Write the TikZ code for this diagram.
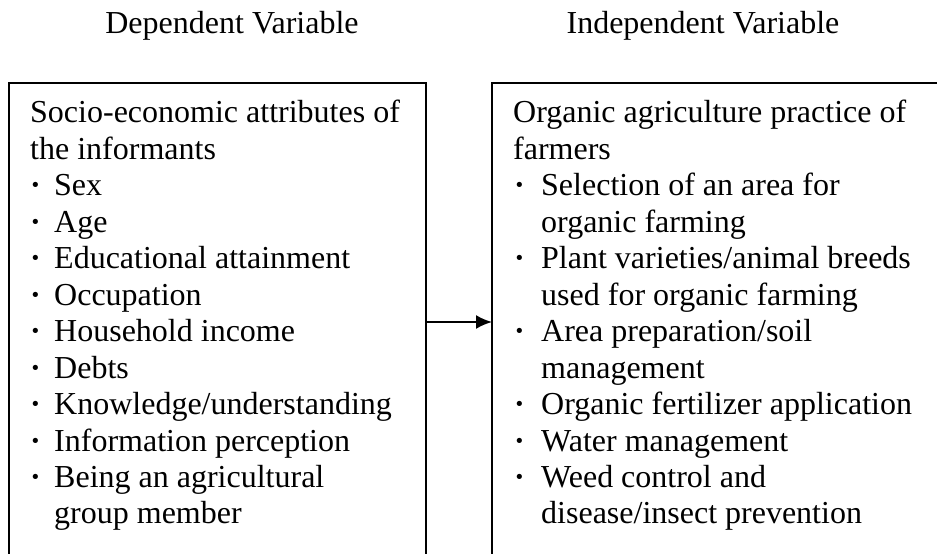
\documentclass[tikz,border=0pt]{standalone}
\usepackage{fontspec}
\setmainfont{Liberation Serif}
\usetikzlibrary{arrows.meta}
\newcommand\myfs{\fontsize{32bp}{36.45bp}\selectfont}
\tikzset{
  box/.style={draw=black, line width=2bp, inner sep=0pt, outer sep=0pt, anchor=north west},
  txt/.style={anchor=base west, inner sep=0pt, font=\myfs},
  ttl/.style={anchor=base, inner sep=0pt, font=\myfs},
  conn/.style={line width=2bp, -{Latex[length=16bp,width=14bp]}}
}
\begin{document}
\begin{tikzpicture}[x=1bp,y=-1bp]
\useasboundingbox (0,0) rectangle (937,554);
\clip (0,0) rectangle (937,554);
\fill[white] (0,0) rectangle (937,554);
% titles
\node[ttl] (t1) at (232,34) {Dependent Variable};
\node[ttl] (t2) at (703,34) {Independent Variable};
% boxes
\node[box, minimum width=417bp, minimum height=478bp] (L) at (9,83) {};
\node[box, minimum width=460bp, minimum height=478bp] (R) at (492,83) {};
% left box text
\node[txt] (l1) at (30,123) {Socio-economic attributes of};
\node[txt] (l2) at (30,159.45) {the informants};
\foreach \y/\t [count=\i] in {195.9/Sex, 232.35/Age, 268.8/Educational attainment, 305.25/Occupation, 341.7/Household income, 378.15/Debts, 414.6/Knowledge{/}understanding, 451.05/Information perception, 487.5/Being an agricultural}{
  \node[txt] (lb\i) at (30,\y) {\textbf{·}};
  \node[txt] (li\i) at (54,\y) {\t};
}
\node[txt] (l12) at (54,523.95) {group member};
% right box text
\node[txt] (r1) at (513,123) {Organic agriculture practice of};
\node[txt] (r2) at (513,159.45) {farmers};
\node[txt] (rb1) at (514,195.9) {\textbf{·}};
\node[txt] (ri1) at (541,195.9) {Selection of an area for};
\node[txt] (rc1) at (541,232.35) {organic farming};
\node[txt] (rb2) at (514,268.8) {\textbf{·}};
\node[txt] (ri2) at (541,268.8) {Plant varieties/animal breeds};
\node[txt] (rc2) at (541,305.25) {used for organic farming};
\node[txt] (rb3) at (514,341.7) {\textbf{·}};
\node[txt] (ri3) at (541,341.7) {Area preparation/soil};
\node[txt] (rc3) at (541,378.15) {management};
\node[txt] (rb4) at (514,414.6) {\textbf{·}};
\node[txt] (ri4) at (541,414.6) {Organic fertilizer application};
\node[txt] (rb5) at (514,451.05) {\textbf{·}};
\node[txt] (ri5) at (541,451.05) {Water management};
\node[txt] (rb6) at (514,487.5) {\textbf{·}};
\node[txt] (ri6) at (541,487.5) {Weed control and};
\node[txt] (rc6) at (541,523.95) {disease/insect prevention};
% connector
\draw[conn] (L.east) -- (R.west);
\end{tikzpicture}
\end{document}
